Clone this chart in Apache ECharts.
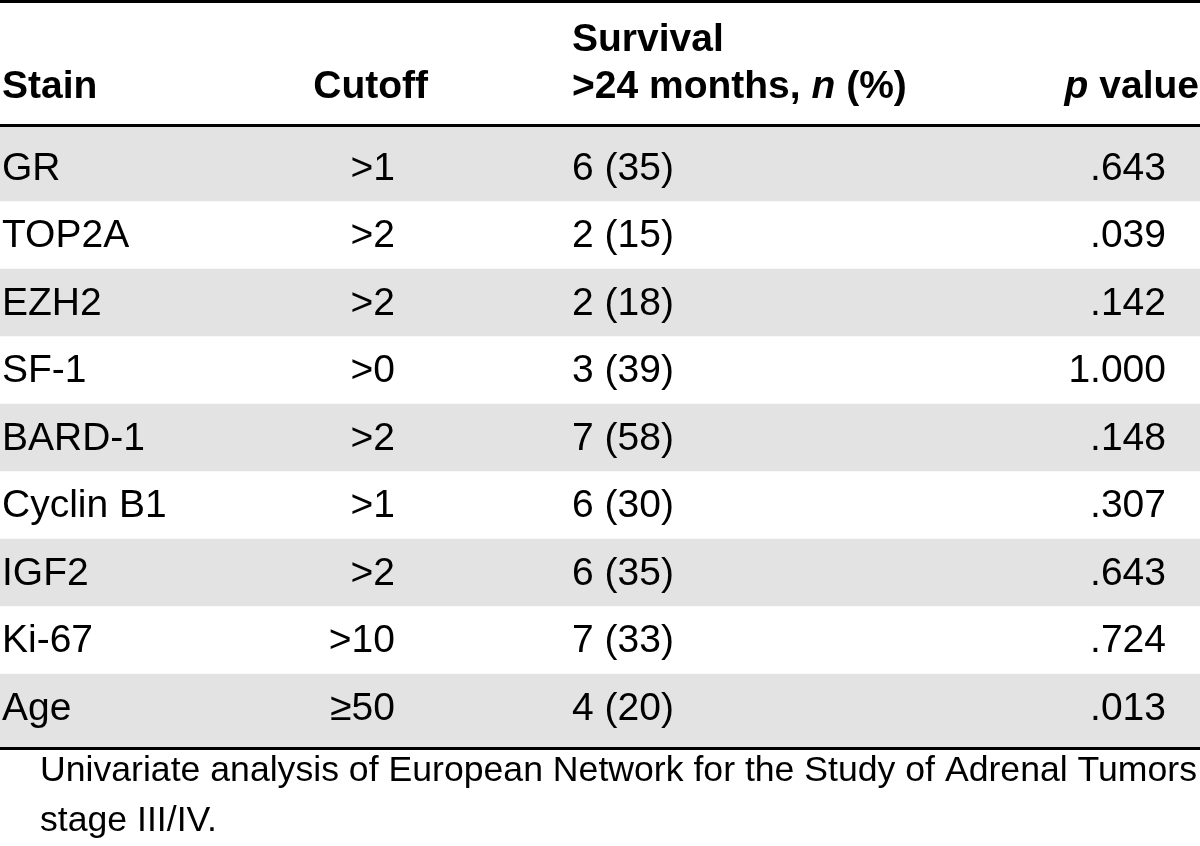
<!DOCTYPE html>
<html>
<head>
<meta charset="utf-8">
<script src="https://cdn.jsdelivr.net/npm/echarts@6/dist/echarts.min.js"></script>
<style>
html,body{margin:0;padding:0;background:#fff;}
#chart{width:1200px;height:846px;}
</style>
</head>
<body>
<div id="chart"></div>
<script>
// ---- data ----
const stains = ['GR', 'TOP2A', 'EZH2', 'SF-1', 'BARD-1', 'Cyclin B1', 'IGF2', 'Ki-67', 'Age'];
const cutoffs = ['>1', '>2', '>2', '>0', '>2', '>1', '>2', '>10', '\u226550'];
const survivalN = [6, 2, 2, 3, 7, 6, 6, 7, 4];
const survivalPct = [35, 15, 18, 39, 58, 30, 35, 33, 20];
const pValues = ['.643', '.039', '.142', '1.000', '.148', '.307', '.643', '.724', '.013'];
const headerStain = 'Stain';
const headerCutoff = 'Cutoff';
const headerSurvival1 = 'Survival';
const headerSurvival2 = '>24 months, {i|n} (%)';
const headerP = '{i|p} value';
const captionLines = ['Univariate analysis of European Network for the Study of Adrenal Tumors', 'stage III/IV.'];

// ---- layout ----
const FONT = '"Liberation Sans", Arial, sans-serif';
const BODY_SIZE = 39;
const colStainX = 2, colCutoffX = 395, colSurvX = 572, colPX = 1166;
const Y_MIN = -0.63, Y_MAX = 8.6;
const BAND = '#e3e3e3';
const TEXT_DY = 1.5;

const chart = echarts.init(document.getElementById('chart'), null, {renderer: 'canvas'});

// caption width fitting
const cv = document.createElement('canvas').getContext('2d');
const CAP_SIZE = 35;
cv.font = CAP_SIZE + 'px ' + FONT;
const capW = cv.measureText(captionLines[0]).width;
const capScale = 1157 / capW;

function renderRow(params, api) {
  const i = params.dataIndex;
  const last = stains.length - 1;
  const yc = api.coord([0, i])[1] + TEXT_DY;
  const y0 = api.coord([0, i === 0 ? Y_MIN : i - 0.5])[1];
  const y1 = api.coord([0, i === last ? Y_MAX : i + 0.5])[1];
  const left = params.coordSys.x, width = params.coordSys.width;
  const children = [];
  if (i % 2 === 0) {
    children.push({type: 'rect', shape: {x: left, y: y0, width: width, height: y1 - y0}, style: {fill: BAND}, silent: true});
  }
  const txt = (t, x, align) => ({
    type: 'text',
    style: {text: t, x: api.coord([x, i])[0], y: yc, textAlign: align, textVerticalAlign: 'middle',
      fontSize: BODY_SIZE, fontFamily: FONT, fill: '#000'}
  });
  children.push(txt(stains[i], colStainX, 'left'));
  children.push(txt(cutoffs[i], colCutoffX, 'right'));
  children.push(txt(survivalN[i] + ' (' + survivalPct[i] + ')', colSurvX, 'left'));
  children.push(txt(pValues[i], colPX, 'right'));
  return {type: 'group', children: children};
}

const headerStyle = {fontSize: BODY_SIZE, fontFamily: FONT, fontWeight: 'bold', fill: '#000', textVerticalAlign: 'middle'};
const richItalic = {i: {fontSize: BODY_SIZE, fontFamily: FONT, fontWeight: 'bold', fontStyle: 'italic', fill: '#000'}};

const option = {
  animation: false,
  backgroundColor: '#fff',
  grid: {left: 0, right: 0, top: 125, bottom: 98, containLabel: false},
  xAxis: [
    {type: 'value', min: 0, max: 1200, position: 'bottom',
     axisLine: {show: true, onZero: false, lineStyle: {color: '#000', width: 3}},
     axisTick: {show: false}, axisLabel: {show: false}, splitLine: {show: false}, z: 5},
    {type: 'value', min: 0, max: 1200, position: 'top',
     axisLine: {show: true, onZero: false, lineStyle: {color: '#000', width: 3}},
     axisTick: {show: false}, axisLabel: {show: false}, splitLine: {show: false}, z: 5}
  ],
  yAxis: {type: 'value', inverse: true, min: Y_MIN, max: Y_MAX, show: false},
  series: [{
    type: 'custom',
    xAxisIndex: 0,
    renderItem: renderRow,
    encode: {y: 0},
    data: stains.map((s, i) => [i]),
    z: 1,
    clip: false
  }],
  graphic: [
    {type: 'line', shape: {x1: 0, y1: 1.5, x2: 1200, y2: 1.5}, style: {stroke: '#000', lineWidth: 3}},
    {type: 'text', x: 2, y: 87, style: Object.assign({text: headerStain, textAlign: 'left'}, headerStyle)},
    {type: 'text', x: 428, y: 87, style: Object.assign({text: headerCutoff, textAlign: 'right'}, headerStyle)},
    {type: 'text', x: 572, y: 40, style: Object.assign({text: headerSurvival1, textAlign: 'left'}, headerStyle)},
    {type: 'text', x: 572, y: 87, style: Object.assign({text: headerSurvival2, textAlign: 'left', rich: richItalic}, headerStyle)},
    {type: 'text', x: 1199, y: 87, style: Object.assign({text: headerP, textAlign: 'right', rich: richItalic}, headerStyle)},
    {type: 'text', x: 40, y: 771, scaleX: capScale,
     style: {text: captionLines[0], textAlign: 'left', textVerticalAlign: 'middle', fontSize: CAP_SIZE, fontFamily: FONT, fill: '#000'}},
    {type: 'text', x: 40, y: 821, scaleX: capScale,
     style: {text: captionLines[1], textAlign: 'left', textVerticalAlign: 'middle', fontSize: CAP_SIZE, fontFamily: FONT, fill: '#000'}}
  ]
};
chart.setOption(option);
</script>
</body>
</html>
